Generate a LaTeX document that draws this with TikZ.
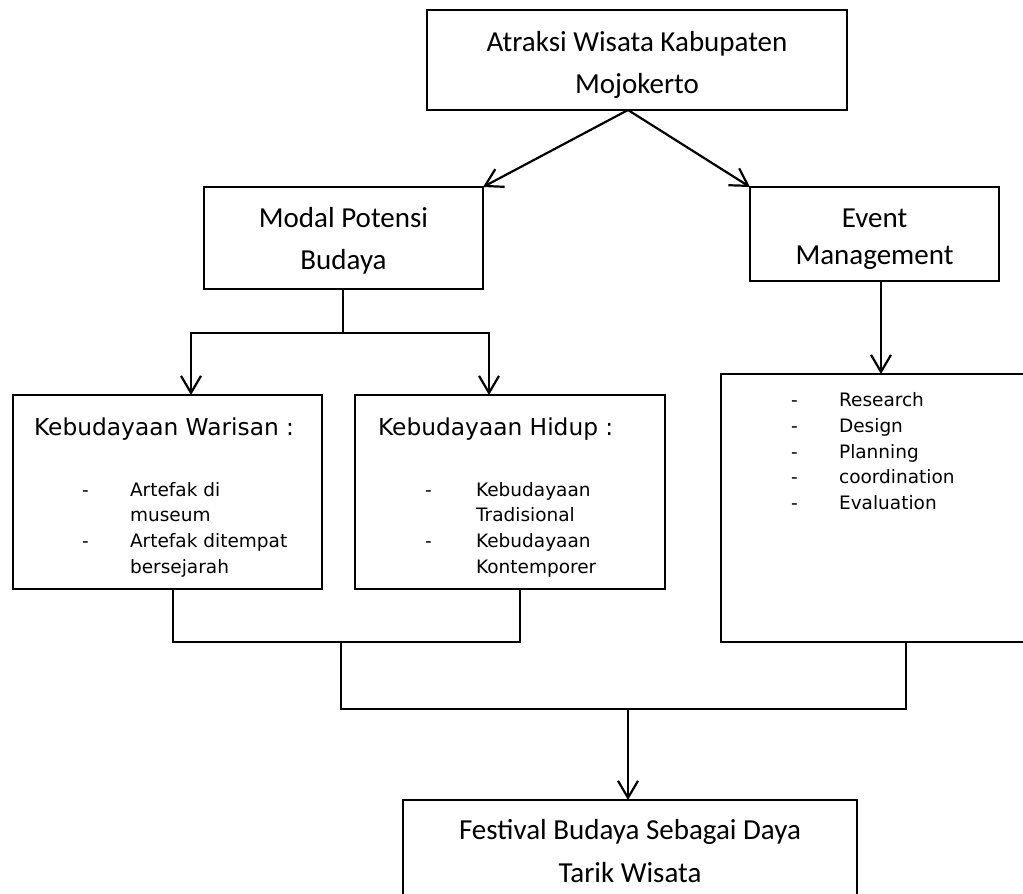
\documentclass[tikz,border=0pt]{standalone}
\usepackage{fontspec}
\setmainfont{Carlito}
\newfontfamily\tahoma{DejaVu Sans}
\usetikzlibrary{arrows.meta, positioning, calc}

\begin{document}
\begin{tikzpicture}[x=1pt, y=-1pt, line width=2.2pt,
    >={Straight Barb[length=17pt, width=20pt]},
    box/.style={draw, rectangle, inner sep=0pt, outer sep=0pt},
    label/.style={inner sep=0pt, align=center, font=\fontsize{29}{42}\selectfont},
    title/.style={anchor=base west, inner sep=0pt,
        font=\tahoma\fontsize{23.3}{28}\selectfont},
    items/.style={anchor=base west, inner sep=0pt,
        font=\tahoma\fontsize{18.5}{25.7}\selectfont}]
    \useasboundingbox (0,0) rectangle (1023,894);

    \node[box, minimum width=420, minimum height=100] (atraksi) at (637,60) {};
    \node[box, minimum width=279, minimum height=102] (modal) at (343.5,238) {};
    \node[box, minimum width=249, minimum height=94] (event) at (874.5,234) {};
    \node[box, minimum width=309, minimum height=194] (warisan) at (167.5,492) {};
    \node[box, minimum width=310, minimum height=194] (hidup) at (510,492) {};
    \node[box, minimum width=309, minimum height=268] (eventlist) at (875.5,508) {};
    \node[box, minimum width=454, minimum height=103] (festival) at (630,851.5) {};

    % isi kotak
    \node[label] (atraksitext) at ([yshift=-4.5pt]atraksi.center) {Atraksi Wisata Kabupaten\\Mojokerto};
    \node[label] (modaltext) at ([yshift=-2.5pt]modal.center) {Modal Potensi\\Budaya};
    \node[label, font=\fontsize{29}{37}\selectfont] (eventtext) at ([yshift=-5.5pt]event.center) {Event\\Management};
    \node[label, font=\fontsize{29}{43}\selectfont] (festivaltext) at (festival.center) {Festival Budaya Sebagai Daya\\Tarik Wisata};

    \node[title] (warisantitle) at (33,435) {Kebudayaan Warisan :};
    \node[items] (warisanitems) at (81,496) {\begin{tabular}[t]{@{}p{48pt}@{}l@{}}
        -&Artefak di\\ &museum\\ -&Artefak ditempat\\ &bersejarah\end{tabular}};
    \node[title] (hiduptitle) at (377,435) {Kebudayaan Hidup :};
    \node[items] (hidupitems) at (424,496) {\begin{tabular}[t]{@{}p{51pt}@{}l@{}}
        -&Kebudayaan\\ &Tradisional\\ -&Kebudayaan\\ &Kontemporer\end{tabular}};
    \node[items] (eventitems) at (790,406.7) {\begin{tabular}[t]{@{}p{48pt}@{}l@{}}
        -&Research\\ -&Design\\ -&Planning\\ -&coordination\\ -&Evaluation\end{tabular}};

    % penghubung
    \coordinate (top) at ([xshift=-9pt]atraksi.south);
    \draw[->] (top) -- (modal.north east);
    \draw[->] (top) -- (event.north west);

    \coordinate (split) at ([xshift=-0.5pt]modal.south);
    \draw[->] (split) -- ++(0,44) -| ([xshift=23.5pt]warisan.north);
    \draw[->] (split) ++(0,44) -| ([xshift=-21pt]hidup.north);
    \draw[->] ([xshift=6.5pt]event.south) -- ([xshift=6.5pt]event.south |- eventlist.north);

    \draw ([xshift=5.5pt]warisan.south) -- ++(0,53) -| ([xshift=10pt]hidup.south);
    \coordinate (culture) at (341,642);
    \coordinate (merge) at (628,709);
    \draw (culture) -- (culture |- merge) -| ([xshift=30.5pt]eventlist.south);
    \draw[->] (merge) -- (merge |- festival.north);
\end{tikzpicture}
\end{document}
